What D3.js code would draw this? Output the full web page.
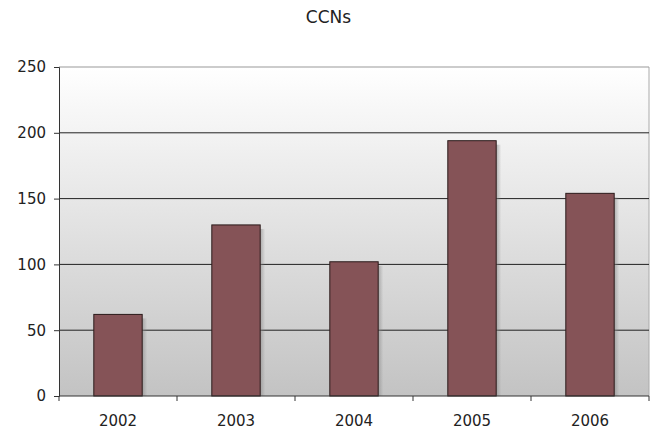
<!DOCTYPE html>
<html>
<head>
<meta charset="utf-8">
<script src="https://cdn.jsdelivr.net/npm/d3@7"></script>
<style>
  body { margin: 0; background: #fff; }
  text { font-family: "DejaVu Sans", Verdana, sans-serif; fill: #222; }
</style>
</head>
<body>
<div id="chart"></div>
<script>
(function () {

    // data
    var years = ['2002', '2003', '2004', '2005', '2006'];
    var ccns = [62, 130, 102, 194, 154];
    var yTicks = [0, 50, 100, 150, 200, 250];

    var width = 657, height = 430;
    var margin = {top: 67, right: 8, bottom: 34, left: 59};
    var w = width - margin.left - margin.right;
    var h = height - margin.top - margin.bottom;

    var svg = d3.select('#chart')
        .append('svg')
        .attr('width', width)
        .attr('height', height);

    // background gradient
    var defs = svg.append('defs');
    var grad = defs.append('linearGradient')
        .attr('id', 'bg')
        .attr('x1', 0).attr('y1', 0).attr('x2', 0).attr('y2', 1);
    grad.append('stop').attr('offset', '0%').attr('stop-color', '#ffffff');
    grad.append('stop').attr('offset', '100%').attr('stop-color', '#c3c3c3');

    var shade = defs.append('linearGradient')
        .attr('id', 'shadow')
        .attr('x1', 0).attr('y1', 0).attr('x2', 1).attr('y2', 0);
    shade.append('stop').attr('offset', '0%').attr('stop-color', '#888').attr('stop-opacity', 0.6);
    shade.append('stop').attr('offset', '100%').attr('stop-color', '#888').attr('stop-opacity', 0);

    // title
    svg.append('text')
        .attr('x', width / 2)
        .attr('y', 23)
        .attr('text-anchor', 'middle')
        .style('font-size', '17px')
        .text('CCNs');

    var g = svg.append('g')
        .attr('transform', 'translate(' + margin.left + ',' + margin.top + ')');

    var x = d3.scaleBand()
        .domain(years)
        .range([0, w])
        .paddingInner(0.59)
        .paddingOuter(0.295);

    var y = d3.scaleLinear()
        .domain([0, 250])
        .range([h, 0]);

    g.append('rect')
        .attr('width', w)
        .attr('height', h)
        .attr('fill', 'url(#bg)');

    // right border
    g.append('line')
        .attr('x1', w).attr('x2', w)
        .attr('y1', 0).attr('y2', h)
        .attr('stroke', '#aaa');

    // gridlines
    g.selectAll('.grid')
        .data(yTicks.slice(1))
        .enter()
        .append('line')
        .attr('x1', 0).attr('x2', w)
        .attr('y1', function (d) { return y(d); })
        .attr('y2', function (d) { return y(d); })
        .attr('stroke', function (d) { return d === 250 ? '#999' : '#222'; })
        .attr('stroke-width', 1);

    // bar shadows
    g.selectAll('.shadow')
        .data(ccns)
        .enter()
        .append('rect')
        .attr('x', function (d, i) { return x(years[i]) + x.bandwidth(); })
        .attr('y', function (d) { return y(d) + 4; })
        .attr('width', 5)
        .attr('height', function (d) { return h - y(d) - 4; })
        .attr('fill', 'url(#shadow)');

    // bars
    g.selectAll('.bar')
        .data(ccns)
        .enter()
        .append('rect')
        .attr('x', function (d, i) { return x(years[i]); })
        .attr('y', function (d) { return y(d); })
        .attr('width', x.bandwidth())
        .attr('height', function (d) { return h - y(d); })
        .attr('fill', '#855357')
        .attr('stroke', '#2a1a1a')
        .attr('stroke-width', 1);

    // y axis
    var yAxis = g.append('g')
        .call(d3.axisLeft(y).tickValues(yTicks).tickSize(5).tickPadding(8));
    yAxis.selectAll('text').style('font-size', '15px');
    yAxis.select('.domain').attr('stroke', '#333');
    yAxis.selectAll('.tick line').attr('stroke', '#333');

    // x axis with ticks between categories
    var xAxis = g.append('g')
        .attr('transform', 'translate(0,' + h + ')');
    xAxis.append('line')
        .attr('x1', 0).attr('x2', w)
        .attr('stroke', '#333');
    var step = x.step();
    xAxis.selectAll('.sep')
        .data(d3.range(years.length + 1))
        .enter()
        .append('line')
        .attr('x1', function (i) { return i * step; })
        .attr('x2', function (i) { return i * step; })
        .attr('y1', 0).attr('y2', 5)
        .attr('stroke', '#333');
    xAxis.selectAll('.lbl')
        .data(years)
        .enter()
        .append('text')
        .attr('x', function (d) { return x(d) + x.bandwidth() / 2; })
        .attr('y', 30)
        .attr('text-anchor', 'middle')
        .style('font-size', '15px')
        .text(function (d) { return d; });

})();
</script>
</body>
</html>
